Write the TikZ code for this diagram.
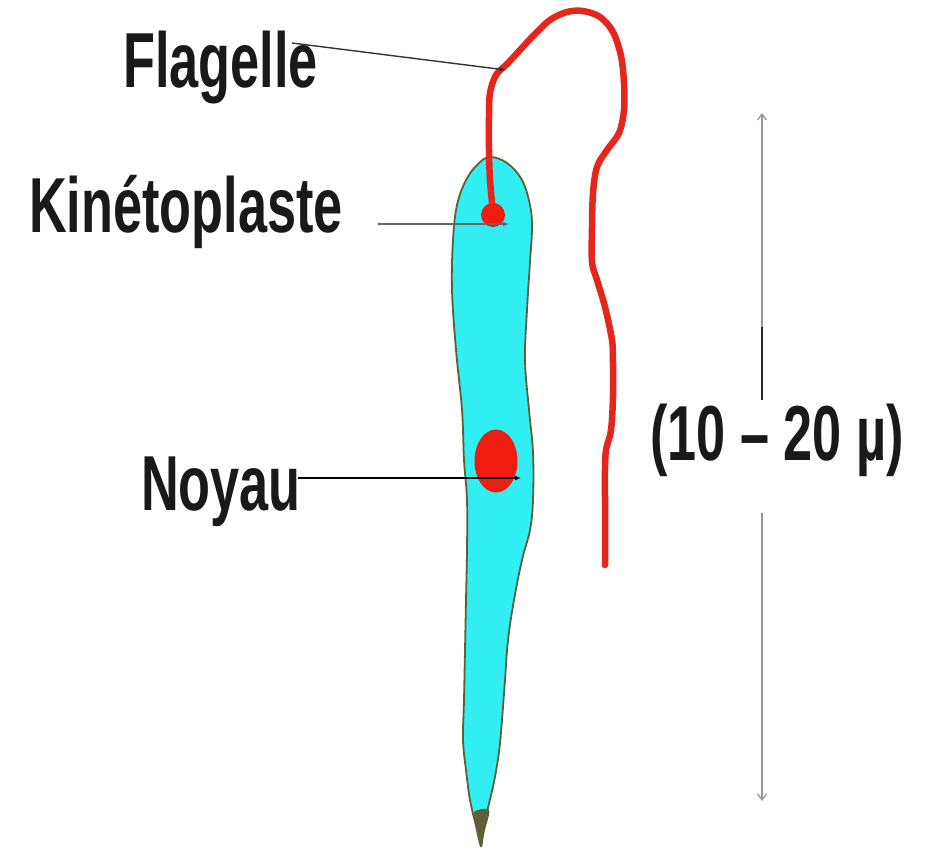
\documentclass[tikz,border=0pt]{standalone}
\usepackage{fontspec}
\setmainfont{Liberation Sans}
\usetikzlibrary{arrows.meta,shapes.geometric}
\definecolor{cellcyan}{RGB}{48,238,242}
\definecolor{cellrim}{RGB}{95,95,55}
\definecolor{flagred}{RGB}{228,38,28}
\definecolor{dotred}{RGB}{240,28,18}
\definecolor{dimgrey}{RGB}{150,150,150}
\newcommand\lbl[1]{\scalebox{0.67}[1]{#1}}
\tikzset{
  label text/.style={anchor=base west, inner sep=0pt, font=\fontsize{78}{80}\selectfont\bfseries, text=black!90},
  leader/.style={line width=1.4pt, -{Latex[length=6pt,width=5pt]}},
  dimline/.style={draw=dimgrey, line width=1.3pt},
  dimtip/.style={-{Straight Barb[length=6pt,width=9pt]}},
}
\begin{document}
\begin{tikzpicture}[x=1pt,y=-1pt]
\useasboundingbox (0,0) rectangle (935,859);

% cell body
\draw[fill=cellcyan, draw=cellrim, line width=1.8pt]
  plot[smooth cycle, tension=0.6] coordinates {
    (490,157) (507,163) (522,180) (530,205) (532,228) (530,262) (527,310)
    (525,360) (529,410) (533,452) (533,500) (530,530) (522,560) (514,600)
    (508,640) (505,680) (502,720) (499,752) (494,782) (488,808) (483,832)
    (481,846) (476,826) (470,800) (466,770) (463,740) (464,700) (465,650)
    (466,600) (467,550) (467,500) (464,460) (462,410) (456,350) (452,290)
    (453,240) (457,205) (466,180) (478,164)};
% dark posterior tail
\fill[cellrim] plot[smooth cycle, tension=0.5] coordinates {
    (474,812) (489,810) (485,830) (481,846) (477,828)};

% flagellum
\draw[flagred, line width=6.5pt, line cap=round, line join=round]
  plot[smooth, tension=0.55] coordinates {
    (493,213) (490,180) (489,150) (489,117) (490,93) (496,75) (507,64)
    (520,50) (533,36) (550,20) (567,12) (583,11) (600,17) (613,32) (621,56)
    (624,83) (624,110) (619,133) (607,150) (597,167) (593,193) (592,227)
    (592,262) (597,280) (605,307) (612,340) (613,363) (613,397) (611,430)
    (606,450) (605,470) (605,500) (605,530) (605,565)};

% kinetoplast and nucleus
\node (kdot) [circle, fill=dotred, minimum size=24pt, inner sep=0pt] at (493,215) {};
\node (nuc) [ellipse, fill=dotred, minimum width=43pt, minimum height=63pt, inner sep=0pt] at (496,461) {};

% labels
\node (flag) [label text] at (123,88) {\lbl{Flagelle}};
\node (kin)  [label text] at (29,232) {\lbl{Kinétoplaste}};
\node (noy)  [label text] at (141,510) {\lbl{Noyau}};
\node (dim)  [label text] at (650,460) {\lbl{(10 – 20 µ)}};

% leader lines
\coordinate (flagfrom) at (292,43);
\coordinate (flagto)   at (506,70);
\coordinate (kinfrom)  at (378,224);
\coordinate (kinto)    at (509,224);
\coordinate (noyfrom)  at (298,478);
\coordinate (noyto)    at (521,478);
\draw[leader, draw=black!80] (flagfrom) -- (flagto);
\draw[leader, draw=black!60] (kinfrom) -- (kinto);
\draw[leader, draw=black, line width=1.8pt] (noyfrom) -- (noyto);

% length scale
\coordinate (dimtop)  at (762,113);
\coordinate (dimup)   at (762,327);
\coordinate (dimmid)  at (762,400);
\coordinate (dimlow)  at (762,513);
\coordinate (dimbot)  at (762,801);
\draw[dimline, dimtip] (dimup) -- (dimtop);
\draw[black!85, line width=1.6pt] (dimup) -- (dimmid);
\draw[dimline, dimtip] (dimlow) -- (dimbot);
\end{tikzpicture}
\end{document}
